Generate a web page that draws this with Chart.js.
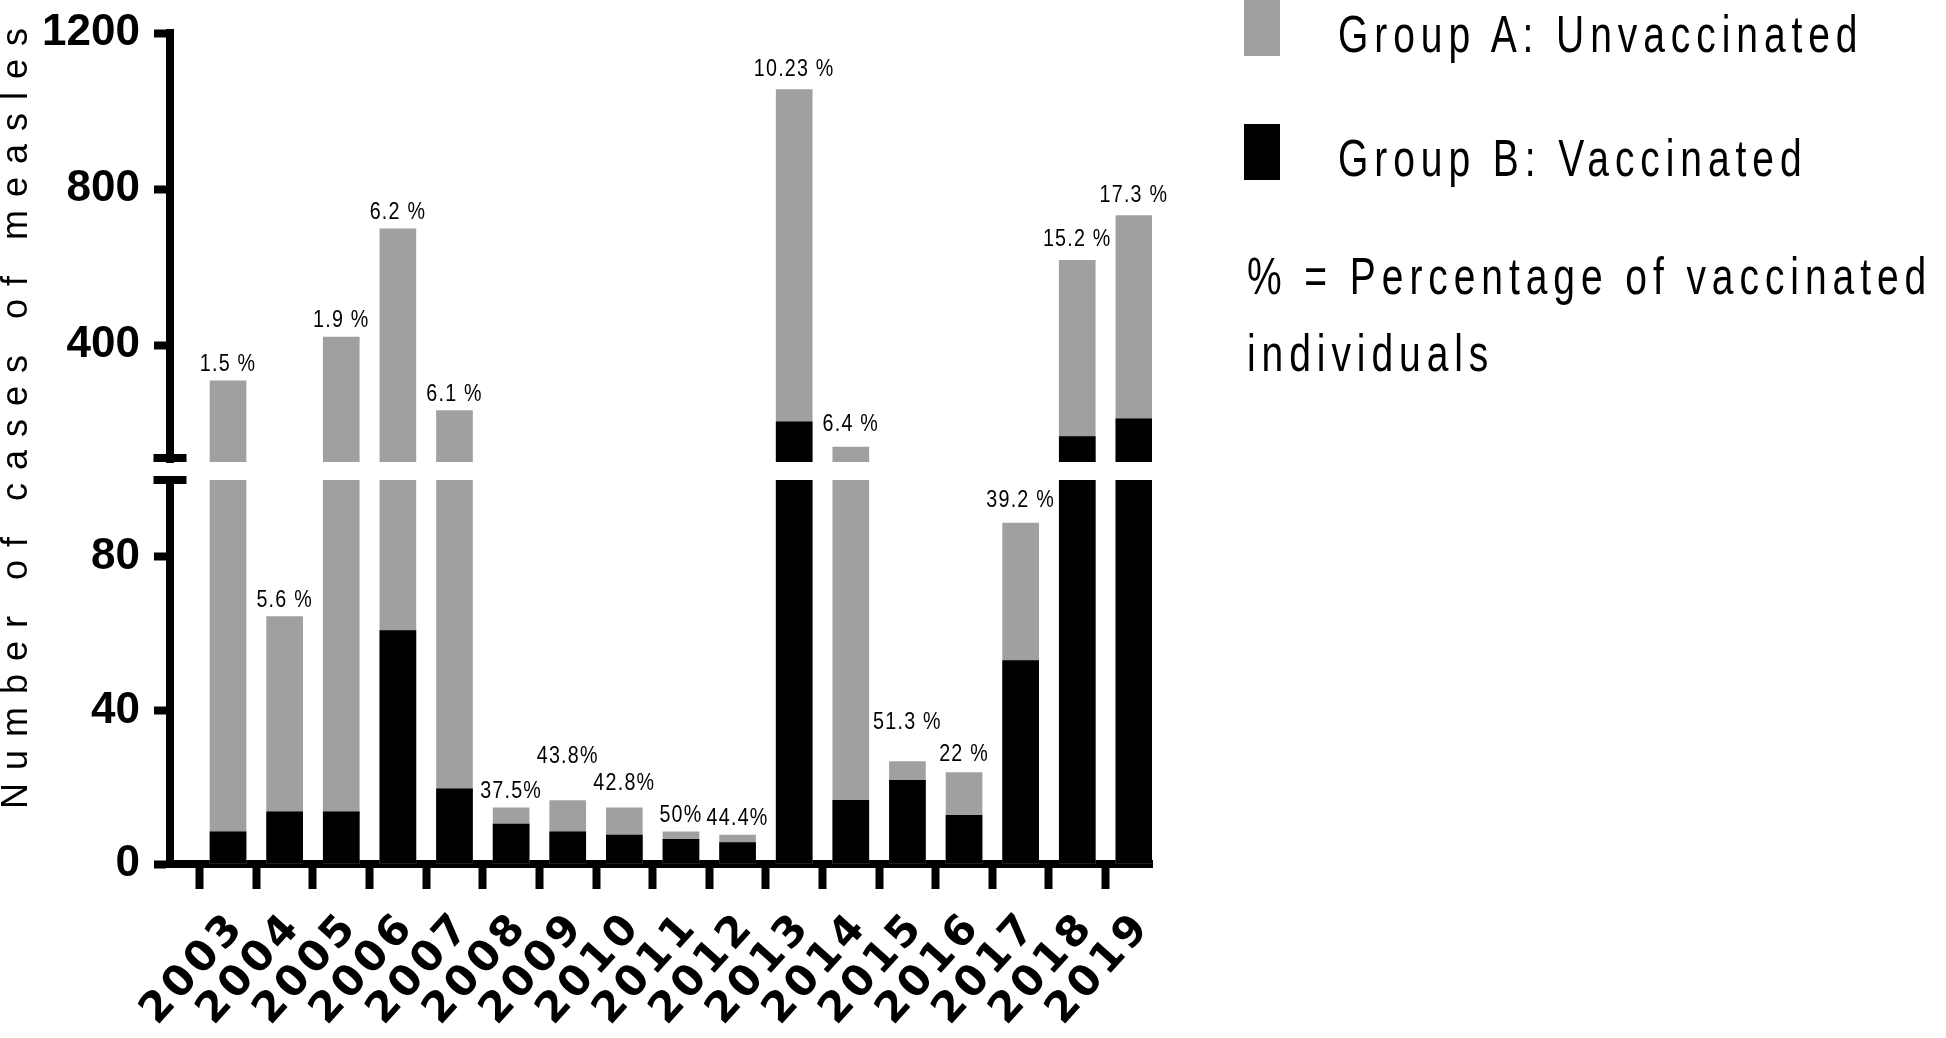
<!DOCTYPE html>
<html><head><meta charset="utf-8">
<script src="https://cdn.jsdelivr.net/npm/chart.js@4.4.1/dist/chart.umd.min.js"></script>
<style>
html,body{margin:0;padding:0;background:#fff;width:1946px;height:1038px;overflow:hidden;}
canvas{position:absolute;left:0;top:0;}
.lg{position:absolute;font-family:'Liberation Sans',Arial,sans-serif;font-size:52px;letter-spacing:7.9px;line-height:1;color:#000;white-space:nowrap;transform:scaleX(0.75);transform-origin:0 0;}
.box{position:absolute;width:36px;}
</style></head><body>
<canvas id="upper" width="1946" height="1038"></canvas>
<canvas id="lower" width="1946" height="1038"></canvas>
<div id="legend"></div>
<script>
// ---- data ----
const years = [2003, 2004, 2005, 2006, 2007, 2008, 2009, 2010, 2011, 2012, 2013, 2014, 2015, 2016, 2017, 2018, 2019];
const totalCases = [308, 64.4, 420, 698, 232, 14.6, 16.5, 14.6, 8.4, 7.5, 1055, 138, 26.7, 23.8, 88.8, 617, 732];
const vaccinatedCases = [8.4, 13.6, 13.6, 60.8, 19.6, 10.4, 8.4, 7.5, 6.4, 5.6, 203, 16.6, 21.8, 12.7, 53, 165, 211];
const pctLabels = ['1.5 %', '5.6 %', '1.9 %', '6.2 %', '6.1 %', '37.5%', '43.8%', '42.8%', '50%', '44.4%', '10.23 %', '6.4 %', '51.3 %', '22 %', '39.2 %', '15.2 %', '17.3 %'];
const upperTicks = [400, 800, 1200];
const lowerTicks = [0, 40, 80];
const seriesNames = ['Group A: Unvaccinated', 'Group B: Vaccinated'];
const noteLines = ['% = Percentage of vaccinated', 'individuals'];
const yTitle = 'Number of cases of measles';

// ---- styles ----
const GREY = '#a0a0a0', BLACK = '#000000';
const labelLift = [0, 0, 0, 0, 0, 0, 28, 8, 0, 0, 4, 6, 22, 2, 6, 4, 4];
const SANS = '"Liberation Sans", Arial, sans-serif';

// x tick labels are drawn after the datasets (ticks.z = 1) with letter spacing
const tickSpacing = {
  id: 'tickSpacing',
  beforeDraw(c) { c.ctx.letterSpacing = '0px'; },
  afterDatasetsDraw(c) { c.ctx.letterSpacing = '4px'; },
  afterDraw(c) { c.ctx.letterSpacing = '0px'; }
};

const pctPlugin = {
  id: 'pct',
  afterDatasetsDraw(c) {
    const {ctx} = c; const x = c.scales.x, y = c.scales.y;
    ctx.save();
    ctx.font = '24px ' + SANS;
    ctx.letterSpacing = '1.5px';
    ctx.textAlign = 'center'; ctx.textBaseline = 'alphabetic'; ctx.fillStyle = BLACK;
    totalCases.forEach((v, i) => {
      if (v <= y.min || v > y.max) return;
      ctx.save();
      ctx.translate(x.getPixelForValue(years[i]), y.getPixelForValue(v) - 10 - labelLift[i]);
      ctx.scale(0.82, 1);
      ctx.fillText(pctLabels[i], 0, 0);
      ctx.restore();
    });
    ctx.restore();
  }
};

const breakPlugin = {
  id: 'brk',
  afterDraw(c, args, opts) {
    const {ctx, chartArea: a} = c;
    ctx.save(); ctx.fillStyle = BLACK;
    if (opts.lower) ctx.fillRect(a.left - 16.5, a.top - 4, 33, 8);
    else ctx.fillRect(a.left - 16.5, a.bottom - 8, 33, 8);
    if (opts.lower) {
      ctx.font = '36px ' + SANS;
      ctx.letterSpacing = '13px';
      ctx.textAlign = 'center'; ctx.textBaseline = 'alphabetic';
      ctx.translate(27, 418);
      ctx.rotate(-Math.PI / 2);
      ctx.fillText(yTitle, 6, 0);
    }
    ctx.restore();
  }
};

function makeChart(id, lower) {
  return new Chart(document.getElementById(id), {
    type: 'bar',
    data: {
      labels: years,
      datasets: [
        {label: seriesNames[0], data: totalCases, backgroundColor: GREY, barThickness: 36, clip: 0, order: 1},
        {label: seriesNames[1], data: vaccinatedCases, backgroundColor: BLACK, barThickness: 36, clip: 0, order: 0}
      ]
    },
    options: {
      responsive: false, animation: false, devicePixelRatio: 1,
      layout: {autoPadding: false, padding: lower ? {left: 0, top: 480, right: 794, bottom: 0} : {left: 0, top: 33, right: 794, bottom: 576}},
      plugins: {legend: {display: false}, tooltip: {enabled: false}, brk: {lower: lower}},
      scales: {
        x: {
          type: 'linear', min: years[0] - 1.025, max: years[years.length - 1] + 0.32,
          stacked: true, offset: false, display: lower,
          afterBuildTicks: s => { s.ticks = years.map(v => ({value: v})); },
          afterFit: s => { if (lower) s.height = 174; },
          grid: {display: true, drawOnChartArea: false, drawTicks: true, tickLength: 25, tickWidth: 8, tickColor: BLACK, color: BLACK, lineWidth: 1},
          border: {display: true, width: 8, color: BLACK},
          ticks: {autoSkip: false, minRotation: 48, maxRotation: 48, padding: 14, labelOffset: 10, z: 1, color: BLACK,
            font: {family: "'DejaVu Sans', sans-serif", weight: 'bold', size: 42},
            callback: v => String(v)}
        },
        y: {
          type: 'linear', min: lower ? 0 : 100, max: lower ? 100 : 1200, stacked: false,
          afterBuildTicks: s => { s.ticks = (lower ? lowerTicks : upperTicks).map(v => ({value: v})); },
          afterFit: s => { s.width = 170; },
          grid: {display: true, drawOnChartArea: false, drawTicks: true, tickLength: 16, tickWidth: 8, tickColor: BLACK, color: BLACK, lineWidth: 1},
          border: {display: true, width: 8, color: BLACK},
          ticks: {padding: 14, color: BLACK, font: {family: SANS, weight: 'bold', size: 44, lineHeight: 0.8}, callback: v => String(v)}
        }
      }
    },
    plugins: [tickSpacing, pctPlugin, breakPlugin]
  });
}

const upperChart = makeChart('upper', false);
const lowerChart = makeChart('lower', true);

// ---- HTML legend built from the datasets ----
const leg = document.getElementById('legend');
const legendPos = [{boxTop: 0, textTop: 8}, {boxTop: 124, textTop: 132}];
lowerChart.data.datasets.forEach((ds, i) => {
  const b = document.createElement('div');
  b.className = 'box';
  b.style.left = '1244px'; b.style.top = legendPos[i].boxTop + 'px'; b.style.height = '56px';
  b.style.background = ds.backgroundColor;
  leg.appendChild(b);
  const t = document.createElement('div');
  t.className = 'lg';
  t.style.left = '1338px'; t.style.top = legendPos[i].textTop + 'px';
  t.textContent = ds.label;
  leg.appendChild(t);
});
noteLines.forEach((line, i) => {
  const t = document.createElement('div');
  t.className = 'lg';
  t.style.left = '1247px'; t.style.top = (250 + i * 77) + 'px';
  t.textContent = line;
  leg.appendChild(t);
});
</script>
</body></html>
